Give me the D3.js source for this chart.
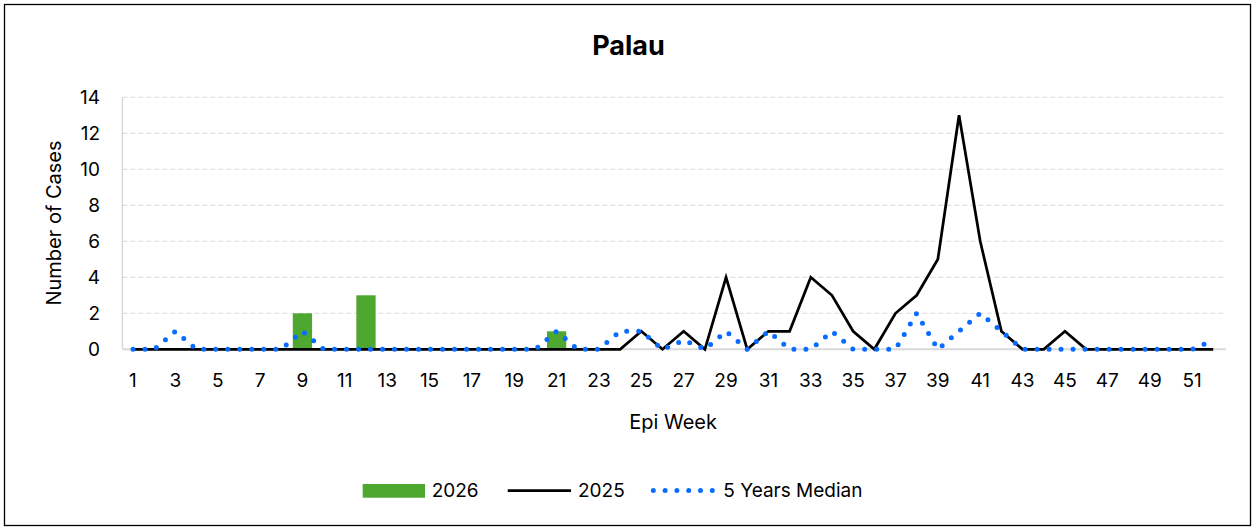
<!DOCTYPE html>
<html>
<head>
<meta charset="utf-8">
<script src="https://cdn.jsdelivr.net/npm/d3@7"></script>
<style>
  html, body { margin: 0; padding: 0; background: #fff; }
  svg { display: block; font-family: Inter, "Liberation Sans", Arial, sans-serif; }
</style>
</head>
<body>
<script>
// ---------- DATA ----------
const weeks = [1,2,3,4,5,6,7,8,9,10,11,12,13,14,15,16,17,18,19,20,21,22,23,24,25,26,
               27,28,29,30,31,32,33,34,35,36,37,38,39,40,41,42,43,44,45,46,47,48,49,50,51,52];
const weekTickLabels = [1,3,5,7,9,11,13,15,17,19,21,23,25,27,29,31,33,35,37,39,41,43,45,47,49,51];
const yTickValues = [0,2,4,6,8,10,12,14];

const cases2026 = [0,0,0,0,0,0,0,0,2,0,0,3,0,0,0,0,0,0,0,0,1,0,0,0,0,0,
                   0,0,0,0,0,0,0,0,0,0,0,0,0,0,0,0,0,0,0,0,0,0,0,0,0,0];
const cases2025 = [0,0,0,0,0,0,0,0,0,0,0,0,0,0,0,0,0,0,0,0,0,0,0,0,1,0,
                   1,0,4,0,1,1,4,3,1,0,2,3,5,13,6,1,0,0,1,0,0,0,0,0,0,0];
const median5y  = [0,0,1,0,0,0,0,0,1,0,0,0,0,0,0,0,0,0,0,0,1,0,0,1,1,0,
                   0.5,0,1,0,1,0,0,1,0,0,0,2,0,1,2,1,0,0,0,0,0,0,0,0,0,0.5];

const seriesNames = ["2026", "2025", "5 Years Median"];
const colors = { bar: "#4ea72e", line: "#000000", median: "#0a6cff", grid: "#d9d9d9" };

// ---------- LAYOUT ----------
const W = 1255, H = 529;
const plot = { left: 122.4, right: 1223.8, top: 97.3, bottom: 349.3 };

const svg = d3.select("body").append("svg").attr("width", W).attr("height", H);

// outer border
svg.append("rect").attr("x", 4.5).attr("y", 4.5).attr("width", 1246).attr("height", 521)
  .attr("fill", "#fff").attr("stroke", "#000").attr("stroke-width", 1.3);

const x = d3.scaleBand().domain(weeks).range([plot.left, plot.right]).paddingInner(0).paddingOuter(0);
const xc = w => x(w) + x.bandwidth() / 2;
const y = d3.scaleLinear().domain([0, 14]).range([plot.bottom, plot.top]);

// gridlines
svg.append("g").selectAll("line").data(yTickValues.filter(v => v > 0)).join("line")
  .attr("x1", plot.left).attr("x2", plot.right + 2)
  .attr("y1", d => y(d)).attr("y2", d => y(d))
  .attr("stroke", colors.grid).attr("stroke-width", 1).attr("stroke-dasharray", "5,3");

// axes lines
svg.append("line").attr("x1", plot.left).attr("x2", plot.left).attr("y1", plot.top).attr("y2", plot.bottom)
  .attr("stroke", colors.grid).attr("stroke-width", 1.5);
svg.append("line").attr("x1", plot.left).attr("x2", plot.right + 2).attr("y1", plot.bottom).attr("y2", plot.bottom)
  .attr("stroke", colors.grid).attr("stroke-width", 2);

// y tick labels
svg.append("g").selectAll("text").data(yTickValues).join("text")
  .attr("x", 100).attr("y", d => y(d)).attr("dy", "0.36em")
  .attr("text-anchor", "end").attr("font-size", 19).attr("fill", "#000")
  .text(d => d);

// x tick labels
svg.append("g").selectAll("text").data(weekTickLabels).join("text")
  .attr("x", d => xc(d)).attr("y", 387)
  .attr("text-anchor", "middle").attr("font-size", 19).attr("fill", "#000")
  .text(d => d);

// axis titles
svg.append("text").attr("transform", "translate(61,223) rotate(-90)")
  .attr("text-anchor", "middle").attr("font-size", 20).text("Number of Cases");
svg.append("text").attr("x", (plot.left + plot.right) / 2).attr("y", 429)
  .attr("text-anchor", "middle").attr("font-size", 20).text("Epi Week");

// title
svg.append("text").attr("x", 628.5).attr("y", 55).attr("text-anchor", "middle")
  .attr("font-size", 27).attr("font-weight", "bold").text("Palau");

// bars 2026
const barW = x.bandwidth() * 0.91;
svg.append("g").selectAll("rect").data(weeks.map((w, i) => ({ w, v: cases2026[i] })).filter(d => d.v > 0)).join("rect")
  .attr("x", d => xc(d.w) - barW / 2).attr("width", barW)
  .attr("y", d => y(d.v)).attr("height", d => y(0) - y(d.v))
  .attr("fill", colors.bar);

// 2025 line
const line = d3.line().x(d => xc(d.w)).y(d => y(d.v));
svg.append("path").datum(weeks.map((w, i) => ({ w, v: cases2025[i] })))
  .attr("d", line).attr("fill", "none").attr("stroke", colors.line)
  .attr("stroke-width", 2.75).attr("stroke-linejoin", "miter");

// median dotted line
svg.append("path").datum(weeks.map((w, i) => ({ w, v: median5y[i] })))
  .attr("d", line).attr("fill", "none").attr("stroke", colors.median)
  .attr("stroke-width", 5).attr("stroke-linecap", "round").attr("stroke-dasharray", "0,12");

// legend
const lg = svg.append("g");
const ly = 490.5;
lg.append("rect").attr("x", 362.7).attr("y", 484).attr("width", 62.3).attr("height", 13.7).attr("fill", colors.bar);
lg.append("text").attr("x", 431.7).attr("y", ly).attr("dy", "0.36em").attr("font-size", 19).text(seriesNames[0]);
lg.append("line").attr("x1", 507.7).attr("x2", 571).attr("y1", ly).attr("y2", ly)
  .attr("stroke", colors.line).attr("stroke-width", 2.75);
lg.append("text").attr("x", 578).attr("y", ly).attr("dy", "0.36em").attr("font-size", 19).text(seriesNames[1]);
lg.append("line").attr("x1", 653.3).attr("x2", 713).attr("y1", ly).attr("y2", ly)
  .attr("stroke", colors.median).attr("stroke-width", 5).attr("stroke-linecap", "round").attr("stroke-dasharray", "0,11.8");
lg.append("text").attr("x", 723.3).attr("y", ly).attr("dy", "0.36em").attr("font-size", 19).text(seriesNames[2]);
</script>
</body>
</html>
